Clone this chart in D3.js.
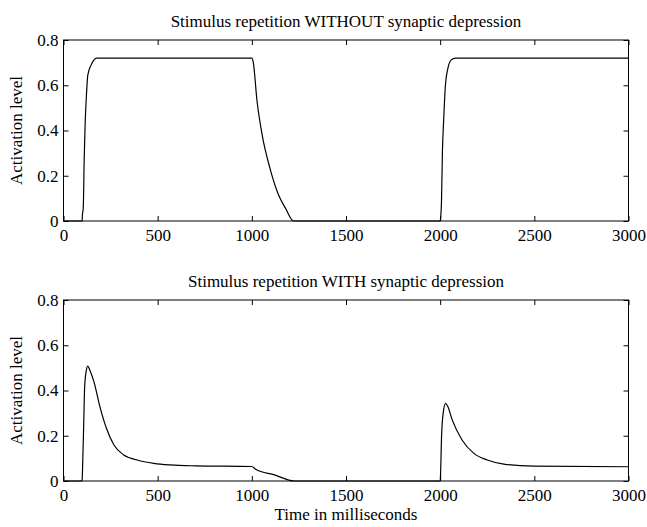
<!DOCTYPE html>
<html>
<head>
<meta charset="utf-8">
<script src="https://cdn.jsdelivr.net/npm/d3@7"></script>
<style>
  body { margin: 0; background: #fff; }
</style>
</head>
<body>
<div id="chart"></div>
<script>
// time axis (ms) and activation values
const topTime = [0, 99, 100, 105, 110, 115, 122, 129, 147, 160, 175, 1000, 1007, 1028, 1055, 1096, 1142, 1179, 1222,
                 2000, 2002, 2007, 2012, 2019, 2028, 2041, 2059, 2081, 3000];
const topValue = [0, 0, 0.02, 0.06, 0.28, 0.43, 0.56, 0.645, 0.69, 0.71, 0.72, 0.72, 0.704, 0.527, 0.38, 0.234, 0.115, 0.056, 0,
                  0, 0.01, 0.085, 0.306, 0.454, 0.601, 0.675, 0.712, 0.72, 0.72];

const bottomTime = [0, 99, 100, 108, 112, 120, 129, 140, 161, 196, 228, 267, 320, 391, 480, 568, 700, 1000, 1020, 1120, 1225,
                    2000, 2001, 2008, 2016, 2029, 2040, 2064, 2117, 2179, 2250, 2338, 2498, 3000];
const bottomValue = [0, 0, 0.02, 0.277, 0.41, 0.483, 0.508, 0.49, 0.44, 0.32, 0.233, 0.16, 0.115, 0.093, 0.078, 0.071, 0.067, 0.064, 0.052, 0.027, 0,
                     0, 0.01, 0.21, 0.30, 0.343, 0.33, 0.27, 0.18, 0.122, 0.093, 0.075, 0.066, 0.063];

const xTicks = [0, 500, 1000, 1500, 2000, 2500, 3000];
const yTicks = [0, 0.2, 0.4, 0.6, 0.8];

const titles = ["Stimulus repetition WITHOUT synaptic depression", "Stimulus repetition WITH synaptic depression"];

var width = 647, height = 527;
var plotW = 565, plotH = 181;
var font = "'Times New Roman', 'Liberation Serif', 'DejaVu Serif', Times, serif";

var svg = d3.select("#chart").append("svg")
    .attr("width", width)
    .attr("height", height)
    .attr("font-family", font);

var x = d3.scaleLinear().domain([0, 3000]).range([0, plotW]);
var y = d3.scaleLinear().domain([0, 0.8]).range([plotH, 0]);

var line = d3.line()
    .curve(d3.curveMonotoneX)
    .x(function(d) { return x(d[0]); })
    .y(function(d) { return y(d[1]); });

//draw one panel at given offset
function panel(top, title, times, values) {
    var g = svg.append("g")
        .attr("transform", "translate(63.5," + top + ")");

    //box ticks on all four sides, pointing in
    g.append("g")
        .attr("transform", "translate(0," + plotH + ")")
        .call(d3.axisBottom(x).tickValues(xTicks).tickSizeInner(-5).tickSizeOuter(0).tickPadding(8)
            .tickFormat(d3.format("d")));
    g.append("g")
        .call(d3.axisTop(x).tickValues(xTicks).tickSizeInner(-5).tickSizeOuter(0).tickFormat(""));
    g.append("g")
        .call(d3.axisLeft(y).tickValues(yTicks).tickSizeInner(-5).tickSizeOuter(0).tickPadding(5)
            .tickFormat(function(d) { return d === 0 ? "0" : d3.format(".1f")(d); }));
    g.append("g")
        .attr("transform", "translate(" + plotW + ",0)")
        .call(d3.axisRight(y).tickValues(yTicks).tickSizeInner(-5).tickSizeOuter(0).tickFormat(""));

    g.selectAll(".domain").remove();
    g.selectAll("g").attr("font-family", font).attr("font-size", 17);
    g.selectAll(".tick line").attr("stroke", "#000");

    g.append("rect")
        .attr("width", plotW)
        .attr("height", plotH)
        .attr("fill", "none")
        .attr("stroke", "#000");

    //trace
    g.append("path")
        .datum(times.map(function(t, i) { return [t, values[i]]; }))
        .attr("fill", "none")
        .attr("stroke", "#000")
        .attr("stroke-width", 1.2)
        .attr("d", line);

    //title
    g.append("text")
        .attr("x", plotW / 2)
        .attr("y", -13)
        .attr("text-anchor", "middle")
        .attr("font-size", 17)
        .text(title);

    //y label
    g.append("text")
        .attr("transform", "rotate(-90)")
        .attr("x", -plotH / 2)
        .attr("y", -42)
        .attr("text-anchor", "middle")
        .attr("font-size", 17)
        .text("Activation level");
}

panel(40, titles[0], topTime, topValue);
panel(300, titles[1], bottomTime, bottomValue);

//x label
svg.append("text")
    .attr("x", 63.5 + plotW / 2)
    .attr("y", 520)
    .attr("text-anchor", "middle")
    .attr("font-size", 17)
    .text("Time in milliseconds");
</script>
</body>
</html>
